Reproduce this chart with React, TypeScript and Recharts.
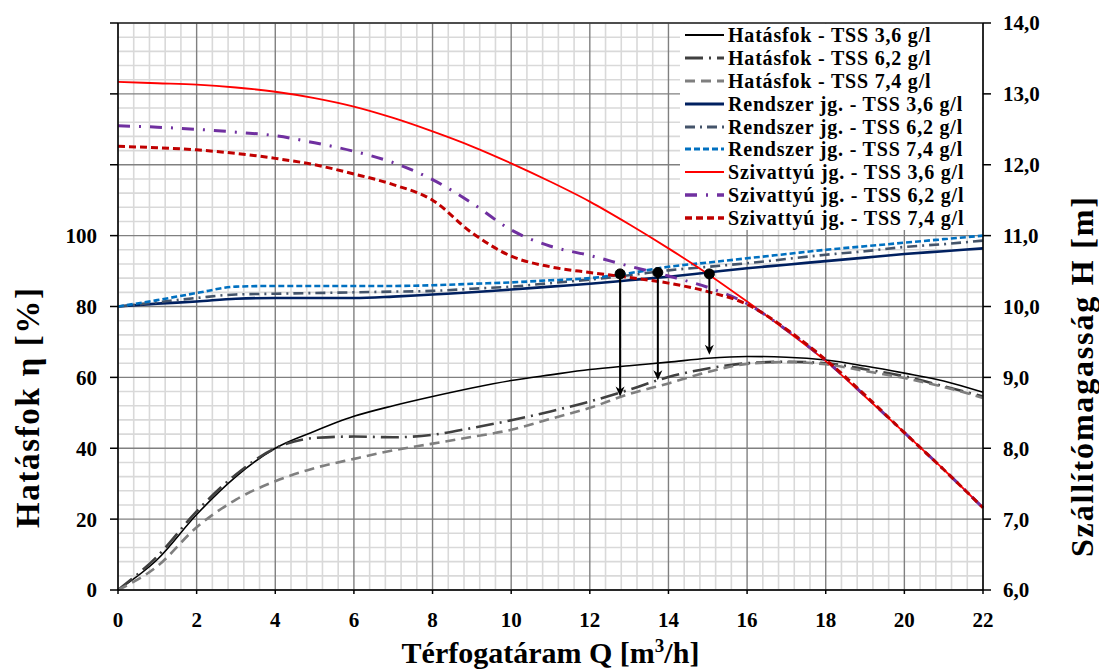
import React from "react";
import { LineChart, Line, XAxis, YAxis, CartesianGrid, ReferenceLine, ReferenceDot } from "recharts";

const FONT = "'Liberation Serif', 'DejaVu Serif', serif";

// Q [m3/h]
const flowQ = [0, 1, 2, 3, 4, 5, 6, 7, 8, 9, 10, 11, 12, 13, 14, 15, 16, 17, 18, 19, 20, 21, 22];

// Hatásfok [%]
const effTss36 = [0, 8.6, 21.3, 32, 40, 44.8, 49, 52, 54.6, 57, 59.1, 60.7, 62.2, 63.3, 64.3, 65.4, 65.9, 65.7, 64.9, 63.2, 61.2, 59, 55.8];
const effTss62 = [0, 9.5, 22.2, 32.6, 40, 42.9, 43.3, 43.1, 43.8, 45.7, 47.9, 50.4, 53.2, 56.5, 60.1, 62.5, 64, 64.4, 64, 62.3, 60.3, 57.5, 54.6];
const effTss74 = [0, 6.7, 17.7, 25.5, 30.7, 34.4, 37, 39.4, 41.3, 43.2, 45.2, 48.3, 51.4, 55.3, 58.3, 61.5, 63.8, 64.3, 63.7, 61.8, 59.8, 57.3, 54.2];

// Rendszer jelleggörbe H [m]
const sysTss36 = [10.0, 10.04, 10.07, 10.11, 10.12, 10.12, 10.12, 10.14, 10.17, 10.2, 10.24, 10.28, 10.32, 10.37, 10.42, 10.48, 10.54, 10.59, 10.64, 10.69, 10.74, 10.78, 10.82];
const sysTss62 = [10.0, 10.06, 10.12, 10.17, 10.18, 10.19, 10.2, 10.21, 10.22, 10.25, 10.28, 10.33, 10.38, 10.44, 10.51, 10.56, 10.61, 10.67, 10.73, 10.78, 10.84, 10.88, 10.93];
const sysTss74 = [10.0, 10.09, 10.19, 10.28, 10.29, 10.29, 10.29, 10.29, 10.3, 10.32, 10.34, 10.37, 10.4, 10.47, 10.56, 10.62, 10.68, 10.74, 10.8, 10.85, 10.9, 10.95, 11.0];

// Szivattyú jelleggörbe H [m]
const pumpTss36 = [13.17, 13.15, 13.13, 13.09, 13.03, 12.94, 12.82, 12.66, 12.47, 12.26, 12.02, 11.76, 11.48, 11.16, 10.82, 10.46, 10.07, 9.66, 9.23, 8.73, 8.22, 7.7, 7.16];
const pumpTss62 = [12.55, 12.53, 12.5, 12.46, 12.41, 12.31, 12.19, 12.03, 11.79, 11.46, 11.08, 10.85, 10.72, 10.57, 10.43, 10.27, 10.04, 9.67, 9.24, 8.74, 8.22, 7.7, 7.16];
const pumpTss74 = [12.26, 12.24, 12.21, 12.16, 12.09, 12.0, 11.87, 11.72, 11.5, 11.04, 10.71, 10.56, 10.48, 10.41, 10.33, 10.21, 10.03, 9.68, 9.25, 8.75, 8.22, 7.7, 7.16];

// munkapontok
const opQ = [12.77, 13.73, 15.04];
const opH = [10.46, 10.48, 10.46];
const opEff = [54.6, 59.2, 66.4];

const xTicks = [0, 2, 4, 6, 8, 10, 12, 14, 16, 18, 20, 22];
const leftTicks = [0, 20, 40, 60, 80, 100, 120, 140, 160];
const rightTicks = [6, 7, 8, 9, 10, 11, 12, 13, 14];

const minorX: number[] = [];
for (let i = 1; i < 55; i++) if (i % 5 !== 0) minorX.push(+(i * 0.4).toFixed(2));
const minorY: number[] = [];
for (let i = 1; i < 40; i++) if (i % 5 !== 0) minorY.push(+(6 + i * 0.2).toFixed(2));

const rows = flowQ.map((q, i) => ({
  q,
  e36: effTss36[i],
  e62: effTss62[i],
  e74: effTss74[i],
  s36: sysTss36[i],
  s62: sysTss62[i],
  s74: sysTss74[i],
  p36: pumpTss36[i],
  p62: pumpTss62[i],
  p74: pumpTss74[i],
}));

const series = [
  { key: "e36", axis: "left", name: "Hatásfok - TSS 3,6 g/l", color: "#000000", width: 1.6, dash: undefined },
  { key: "e62", axis: "left", name: "Hatásfok - TSS 6,2 g/l", color: "#404040", width: 2.6, dash: "18 6 2 6" },
  { key: "e74", axis: "left", name: "Hatásfok - TSS 7,4 g/l", color: "#7f7f7f", width: 2.6, dash: "10 6" },
  { key: "s36", axis: "right", name: "Rendszer jg. - TSS 3,6 g/l", color: "#002060", width: 2.6, dash: undefined },
  { key: "s62", axis: "right", name: "Rendszer jg. - TSS 6,2 g/l", color: "#44546a", width: 2.6, dash: "10 5 2 5" },
  { key: "s74", axis: "right", name: "Rendszer jg. - TSS 7,4 g/l", color: "#0070c0", width: 2.6, dash: "6 3" },
  { key: "p36", axis: "right", name: "Szivattyú jg. - TSS 3,6 g/l", color: "#ff0000", width: 1.8, dash: undefined },
  { key: "p62", axis: "right", name: "Szivattyú jg. - TSS 6,2 g/l", color: "#7030a0", width: 3, dash: "12 9 2 9" },
  { key: "p74", axis: "right", name: "Szivattyú jg. - TSS 7,4 g/l", color: "#c00000", width: 3, dash: "7 4" },
];

const tickStyle = { fontSize: 21, fontWeight: 700, fill: "#000", fontFamily: FONT };
const titleStyle = { fontSize: 30, fontWeight: 700, fill: "#000", fontFamily: FONT };

function Arrow(props: any) {
  const { x1, y1, x2, y2 } = props;
  return (
    <g>
      <line x1={x1} y1={y1} x2={x2} y2={y2 - 6} stroke="#000" strokeWidth={2} />
      <path d={`M${x2 - 4.5},${y2 - 10} L${x2},${y2} L${x2 + 4.5},${y2 - 10} L${x2},${y2 - 7} Z`} fill="#000" />
    </g>
  );
}

function LegendBox() {
  return (
    <div
      style={{
        position: "absolute",
        left: 680,
        top: 24,
        width: 302,
        height: 206,
        background: "#fff",
        fontFamily: FONT,
        fontWeight: 700,
        fontSize: 20,
        letterSpacing: 0.8,
        color: "#000",
      }}
    >
      {series.map((s) => (
        <div key={s.key} style={{ height: 22.8, display: "flex", alignItems: "center", whiteSpace: "nowrap" }}>
          <svg width={48} height={22} style={{ flex: "none" }}>
            <line x1={5} x2={44} y1={11} y2={11} stroke={s.color} strokeWidth={s.width + 0.4} strokeDasharray={s.dash} />
          </svg>
          <span style={{ lineHeight: "22px" }}>{s.name}</span>
        </div>
      ))}
    </div>
  );
}

export default function App() {
  return (
    <div style={{ position: "absolute", left: 0, top: 0, width: 1099, height: 670, background: "#fff" }}>
      <LineChart width={1099} height={670} data={rows} margin={{ top: 23, right: 0, bottom: 0, left: 0 }}>
        <CartesianGrid
          xAxisId={0}
          yAxisId="right"
          verticalValues={minorX}
          horizontalValues={minorY}
          stroke="#d9d9d9"
          strokeWidth={1.6}
        />
        <CartesianGrid
          xAxisId={0}
          yAxisId="right"
          verticalValues={xTicks}
          horizontalValues={rightTicks}
          stroke="#808080"
          strokeWidth={1.4}
        />
        <XAxis
          dataKey="q"
          type="number"
          domain={[0, 22]}
          ticks={xTicks}
          height={80}
          tickSize={4}
          tickMargin={18}
          interval={0}
          tick={tickStyle}
          axisLine={{ stroke: "#000", strokeWidth: 1.5 }}
          tickLine={{ stroke: "#000", strokeWidth: 1.5 }}
          label={(p: any) => {
            const vb = p.viewBox;
            return (
              <text x={vb.x + vb.width / 2} y={663} textAnchor="middle" style={titleStyle}>
                Térfogatáram Q [m<tspan dy={-11} fontSize={19}>3</tspan>
                <tspan dy={11}>/h]</tspan>
              </text>
            );
          }}
        />
        <YAxis
          yAxisId="left"
          type="number"
          domain={[0, 160]}
          ticks={leftTicks}
          interval={0}
          width={118}
          tickSize={8}
          tickMargin={13}
          tick={tickStyle}
          tickFormatter={(v: number) => (v <= 100 ? String(v) : "")}
          axisLine={{ stroke: "#000", strokeWidth: 1.5 }}
          tickLine={{ stroke: "#000", strokeWidth: 1.5 }}
          label={() => (
            <text
              x={39}
              y={408}
              transform="rotate(-90, 39, 408)"
              textAnchor="middle"
              textLength={240}
              lengthAdjust="spacing"
              style={{ ...titleStyle, fontSize: 33 }}
            >
              Hatásfok η [%]
            </text>
          )}
        />
        <YAxis
          yAxisId="right"
          orientation="right"
          type="number"
          domain={[6, 14]}
          ticks={rightTicks}
          interval={0}
          width={116}
          tickSize={8}
          tickMargin={12}
          tick={tickStyle}
          tickFormatter={(v: number) => v.toFixed(1).replace(".", ",")}
          axisLine={{ stroke: "#000", strokeWidth: 1.5 }}
          tickLine={{ stroke: "#000", strokeWidth: 1.5 }}
          label={() => (
            <text
              x={1093}
              y={377}
              transform="rotate(-90, 1093, 377)"
              textAnchor="middle"
              textLength={360}
              lengthAdjust="spacing"
              style={{ ...titleStyle, fontSize: 32 }}
            >
              Szállítómagasság H [m]
            </text>
          )}
        />
        <ReferenceLine yAxisId="right" y={14} stroke="#333" strokeWidth={1.5} />
        {series.map((s) => (
          <Line
            key={s.key}
            yAxisId={s.axis}
            dataKey={s.key}
            type="monotone"
            stroke={s.color}
            strokeWidth={s.width}
            strokeDasharray={s.dash}
            dot={false}
            activeDot={false}
            isAnimationActive={false}
          />
        ))}
        {opQ.map((q, i) => (
          <ReferenceLine
            key={"a" + i}
            yAxisId="left"
            segment={[
              { x: q, y: (opH[i] - 6) * 20 },
              { x: q, y: opEff[i] },
            ]}
            shape={Arrow}
          />
        ))}
        {opQ.map((q, i) => (
          <ReferenceDot key={"d" + i} yAxisId="right" x={q} y={opH[i]} r={5} fill="#000" stroke="#000" />
        ))}
      </LineChart>
      <LegendBox />
    </div>
  );
}
